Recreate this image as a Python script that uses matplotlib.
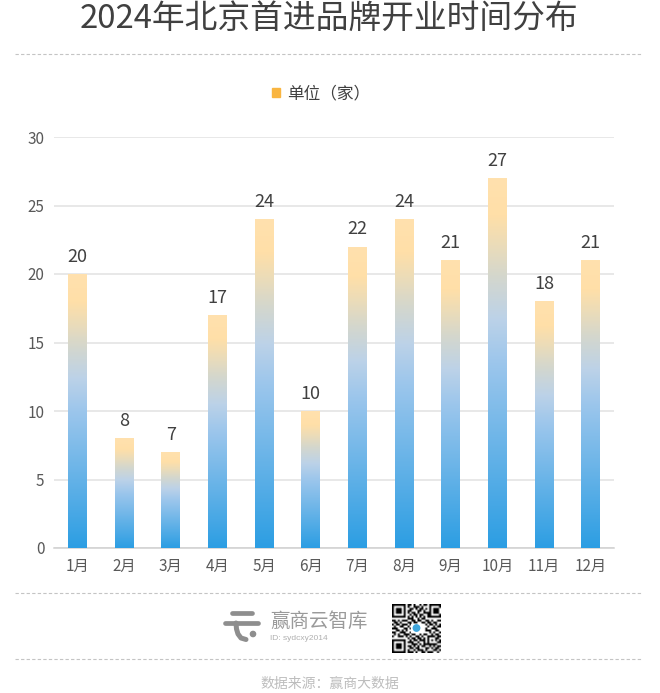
import matplotlib
matplotlib.use("Agg")
import matplotlib.pyplot as plt
import numpy as np
from matplotlib.colors import LinearSegmentedColormap
from matplotlib.patches import Rectangle, Circle

plt.rcParams['font.family'] = ['Noto Sans CJK SC', 'DejaVu Sans']

months = ["1月", "2月", "3月", "4月", "5月", "6月", "7月", "8月", "9月", "10月", "11月", "12月"]
counts = [20, 8, 7, 17, 24, 10, 22, 24, 21, 27, 18, 21]
yticks = [0, 5, 10, 15, 20, 25, 30]

title = "2024年北京首进品牌开业时间分布"
legend_label = "单位（家）"
brand = "赢商云智库"
brand_id = "ID: sydcxy2014"
source = "数据来源：赢商大数据"

qr_rows = [
    "1111111011010010110111111",
    "1000001010011101000100001",
    "1011101001101011010101110",
    "1011101011000110100101110",
    "1011101010110100111101110",
    "1000001001011011001100001",
    "1111111010101010101111111",
    "0000000011100101100000000",
    "1101011100110110011010011",
    "0110100011011001101101100",
    "1011011101000000010110101",
    "0100110010000000001001011",
    "1110001101000000010011100",
    "0011010100000000011100110",
    "1100111001000000000101001",
    "0101001110110010110010110",
    "1001110101001101001111011",
    "0000000010110110101000110",
    "1111111001011011101010101",
    "1000001011100100101000011",
    "1011101000111010111111100",
    "1011101011010101100101011",
    "1011101001101100011010110",
    "1000001010010111010001101",
    "1111111011101001101110010",
]

W, H = 660, 693
fig = plt.figure(figsize=(W / 100, H / 100), dpi=100, facecolor="white")

# plot area in pixels: x 54-614, y 137-548
ax = fig.add_axes([54 / W, 1 - 548 / H, 560 / W, 411 / H])
x = np.arange(len(months))
cmap = LinearSegmentedColormap.from_list("bar", [
    (0.0, "#2C9EE3"), (0.5, "#9CC6EC"), (0.62, "#BCD2E8"),
    (0.74, "#D5D7CC"), (0.82, "#EBDCB9"), (0.9, "#FFDFA8"), (1.0, "#FFE1AE")])
grad = np.linspace(1, 0, 256).reshape(-1, 1)

bars = ax.bar(x, counts, width=0.4, color="none", edgecolor="none", zorder=3)
for b in bars:
    im = ax.imshow(grad, cmap=cmap, vmin=0, vmax=1, aspect="auto", zorder=3,
                   extent=[b.get_x(), b.get_x() + b.get_width(), 0, b.get_height()])
    im.set_clip_path(b)

for i, c in zip(x, counts):
    ax.annotate(str(c), (i, c), xytext=(0, 6), textcoords="offset points", ha="center", va="bottom",
                fontsize=13, color="#404040", zorder=4)

ax.set_xlim(-0.5, len(months) - 0.5)
ax.set_ylim(0, 30)
ax.set_xticks(x, months)
ax.set_yticks(yticks)
ax.tick_params(axis="both", length=0, labelsize=11, labelcolor="#595959")
ax.tick_params(axis="x", pad=7)
ax.tick_params(axis="y", pad=7)
ax.grid(axis="y", color="#E2E2E2", linewidth=1.1, zorder=0)
ax.set_axisbelow(True)
for s in ["top", "left", "right"]:
    ax.spines[s].set_visible(False)
ax.spines["bottom"].set_color("#D0D0D0")
ax.spines["bottom"].set_linewidth(1.1)

handle = Rectangle((0, 0), 1, 1, color="#F9B540")
ax.legend([handle], [legend_label], loc="center", bbox_to_anchor=(0.477, (548 - 94) / 411), frameon=False,
          fontsize=12, labelcolor="#404040", handlelength=0.5, handleheight=0.5, handletextpad=0.45,
          borderpad=0, borderaxespad=0)

# everything around the chart, in picture pixels
page = fig.add_axes([0, 0, 1, 1], zorder=5)
page.set_xlim(0, W)
page.set_ylim(H, 0)
page.axis("off")
page.patch.set_alpha(0)

page.text(328.5, 19, title, ha="center", va="center", fontsize=23.6, color="#404040")
for y in [54, 593, 659]:
    page.plot([15, 641], [y, y], color="#C4C4C4", lw=0.8, ls=(0, (3, 2)))

# logo
grey = "#8E8E8E"
page.plot([232, 252], [613, 613], color=grey, lw=3.4, solid_capstyle="round")
page.plot([225, 258], [623, 623], color=grey, lw=3.4, solid_capstyle="round")
page.plot([236, 236.5, 238, 241, 246], [623, 629, 634, 638, 639.5], color=grey, lw=3.6, solid_capstyle="round")
page.add_patch(Circle((253, 634), 2.6, color=grey))
page.text(270, 621, brand, ha="left", va="center", fontsize=14, color="#9A9A9A")
page.text(270, 638.5, brand_id, ha="left", va="center", fontsize=6, color="#B0B0B0",
          family=["Liberation Sans"])

# qr code
qr = np.array([[int(ch) for ch in row] for row in qr_rows])
page.imshow(1 - qr, cmap="gray", vmin=0, vmax=1, extent=[392, 441, 653, 604], aspect="auto",
            interpolation="bilinear")
page.add_patch(Rectangle((411, 624), 11, 8, color="white"))
page.add_patch(Circle((416.5, 628), 3.2, color="#3FA6DC"))
page.set_xlim(0, W)
page.set_ylim(H, 0)

page.text(329.5, 684, source, ha="center", va="center", fontsize=10, color="#BDBDBD")

fig.savefig("out.png", dpi=100)
